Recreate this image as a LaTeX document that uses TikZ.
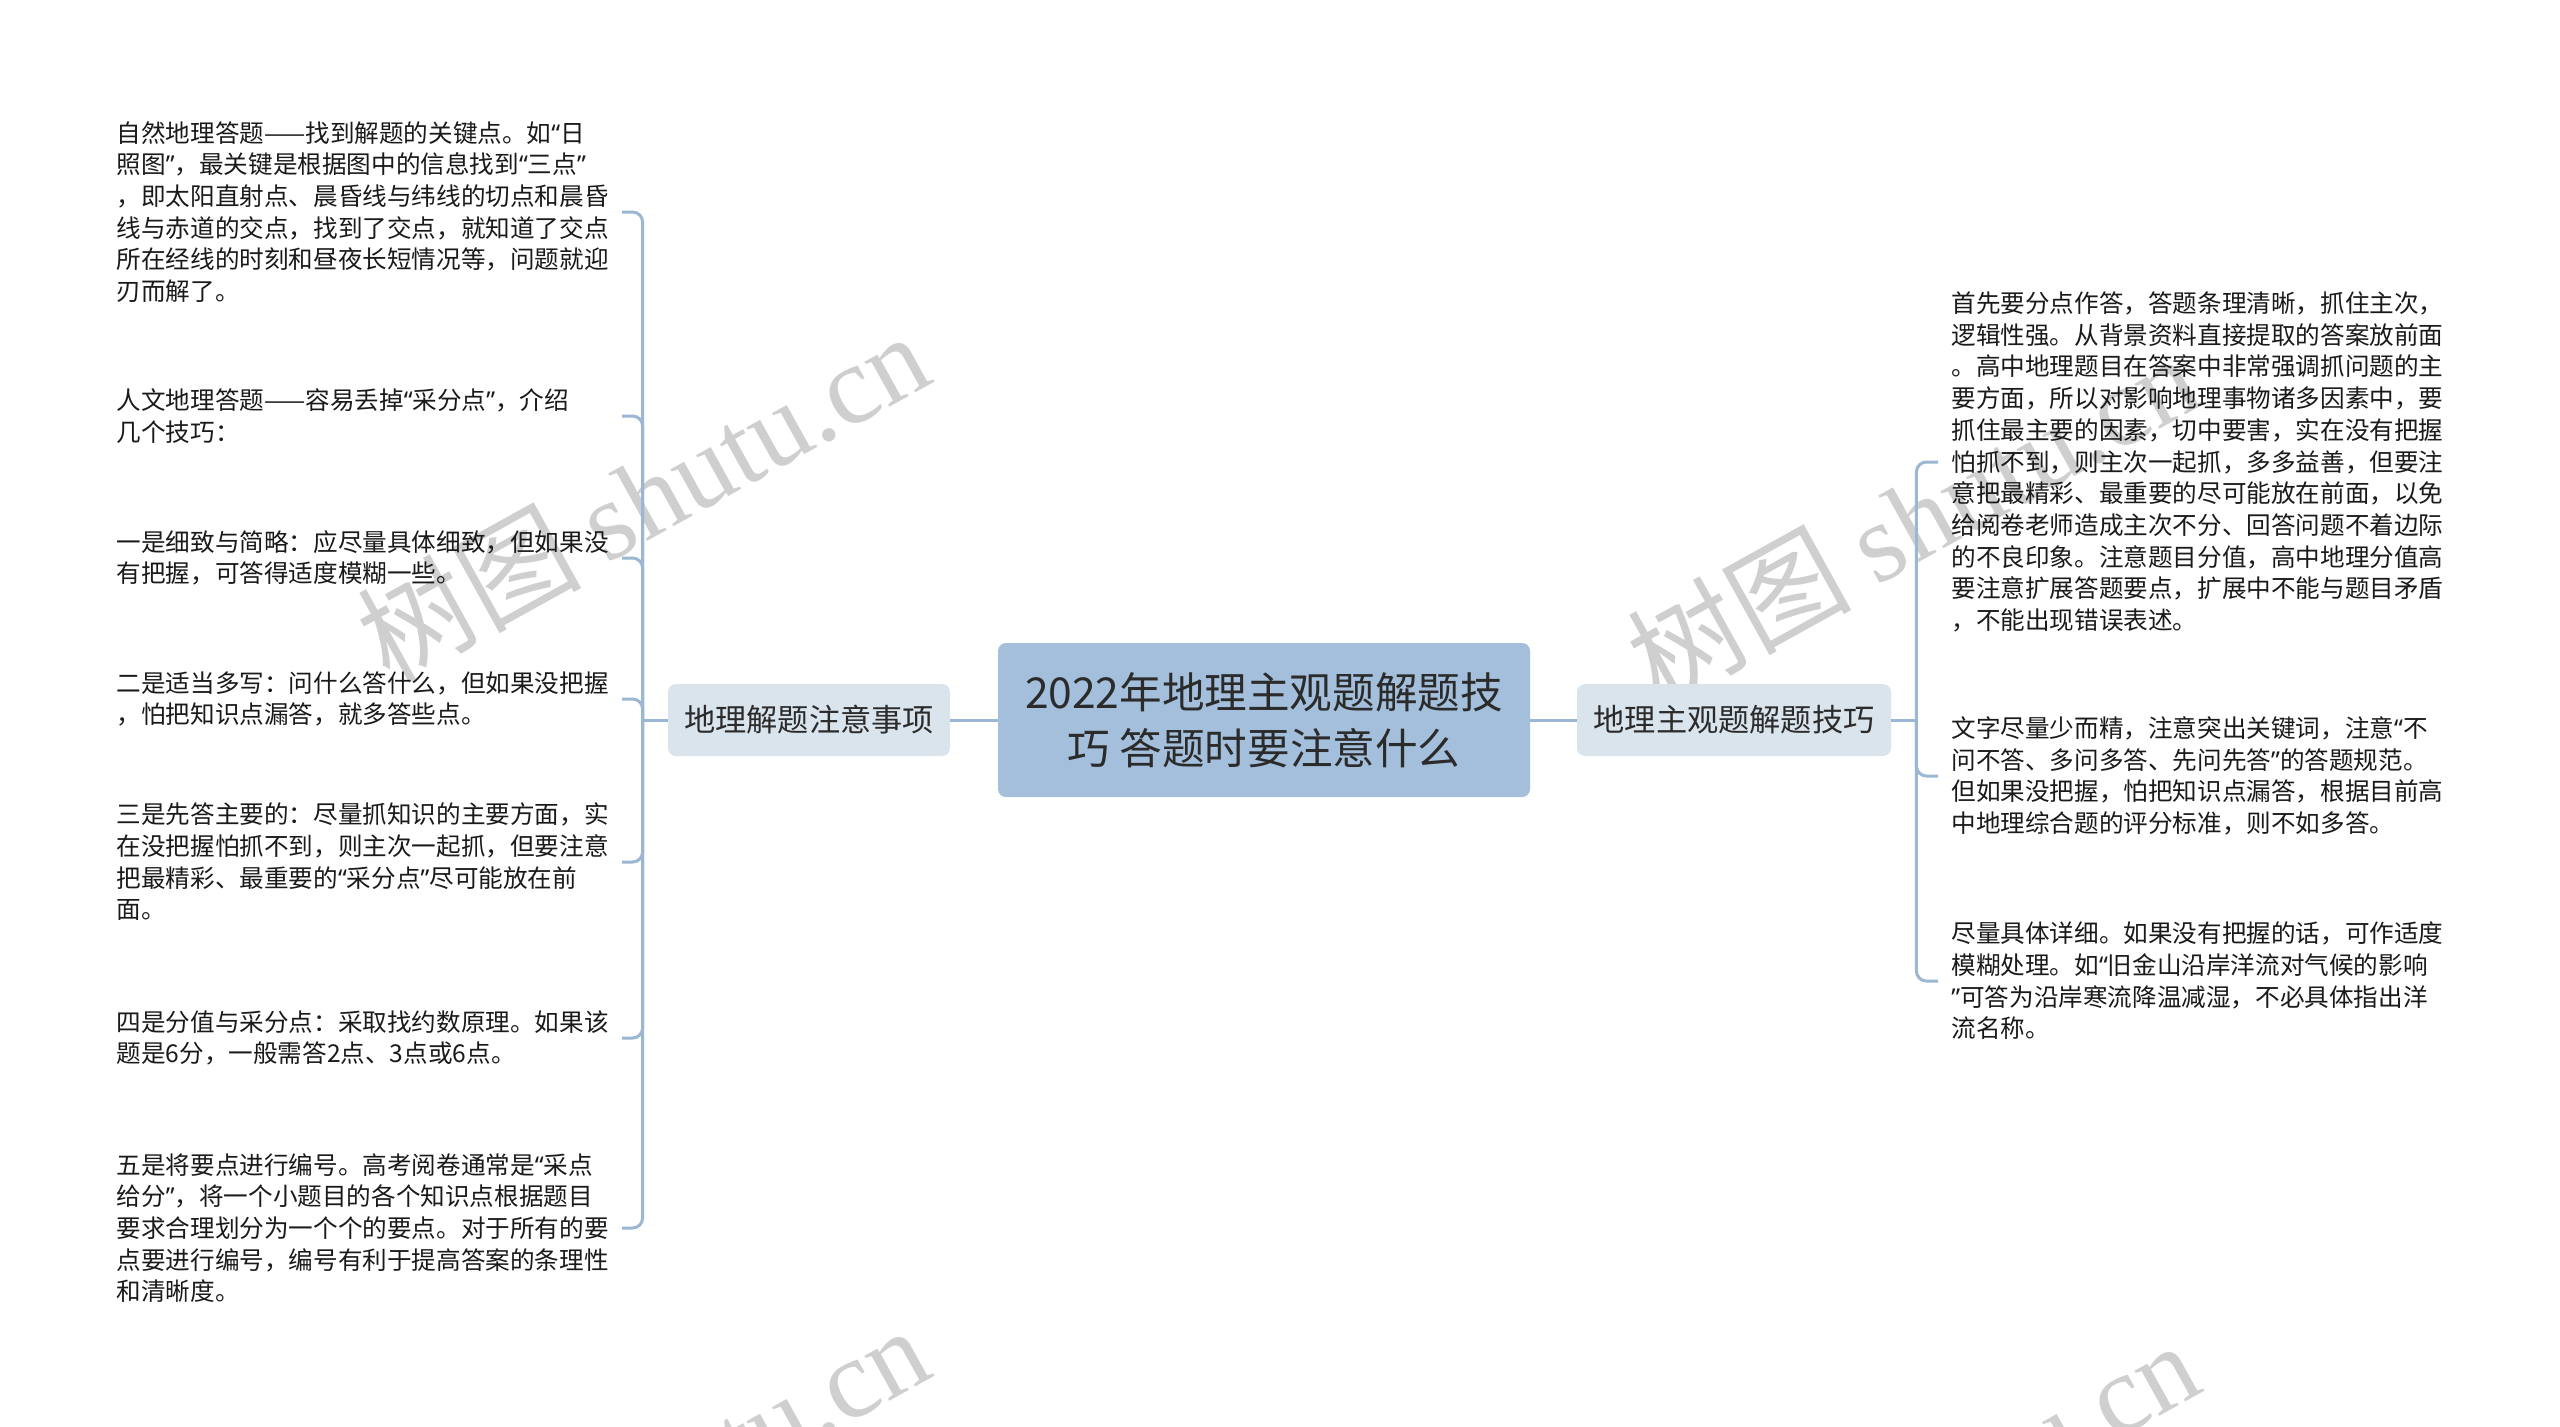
\documentclass[tikz,border=0pt]{standalone}
\usepackage{fontspec}
\setmainfont{Noto Sans CJK SC}
\newfontfamily\wmlatin{Liberation Serif}
\newfontfamily\quotefont{Noto Sans}
\newcommand\myoq{{\quotefont “}}
\newcommand\mycq{{\quotefont ”}}
\usetikzlibrary{calc}
\definecolor{centerfill}{HTML}{A3BFDB}
\definecolor{sidefill}{HTML}{DAE4ED}
\definecolor{linkcol}{HTML}{9BB7D3}
\definecolor{nodetxt}{HTML}{2B2B2B}
\definecolor{leaftxt}{HTML}{1A1A1A}
\definecolor{wmcol}{HTML}{CFCFCF}
\begin{document}
\begin{tikzpicture}[x=0.5pt,y=-0.5pt,
  centerbox/.style={fill=centerfill, rounded corners=4pt, minimum width=266pt, minimum height=77pt,
    align=center, inner sep=0pt, text=nodetxt, font=\fontsize{21.3pt}{28pt}\selectfont},
  sidebox/.style={fill=sidefill, rounded corners=4pt, minimum height=36pt, inner sep=0pt,
    text=nodetxt, font=\fontsize{15.6pt}{18pt}\selectfont},
  leftleaf/.style={anchor=east, align=left, text width=252.5pt, inner sep=0pt, text=leaftxt,
    font=\fontsize{12.3pt}{15.85pt}\selectfont},
  rightleaf/.style={anchor=west, align=left, inner xsep=6.5pt, inner ysep=0pt, text=leaftxt,
    font=\fontsize{12.3pt}{15.85pt}\selectfont},
  link/.style={draw=linkcol, line width=1.5pt, rounded corners=5pt},
  watermark/.style={text=wmcol, rotate=29, inner sep=0pt, font=\fontsize{56pt}{60pt}\selectfont}
]
\useasboundingbox (0,0) rectangle (2560,1426);
\fill[white] (0,0) rectangle (2560,1426);

% watermarks
\node[watermark] (wm1) at (642,496) {树图 {\wmlatin shutu.cn}};
\node[watermark] (wm2) at (1912,518) {树图 {\wmlatin shutu.cn}};
\node[watermark] (wm3) at (642,1490) {树图 {\wmlatin shutu.cn}};
\node[watermark] (wm4) at (1912,1505) {树图 {\wmlatin shutu.cn}};

% main nodes
\node[centerbox] (center) at (1264,720) {2022年地理主观题解题技\\巧 答题时要注意什么};
\node[sidebox, minimum width=141pt] (lside) at (809,720) {地理解题注意事项};
\node[sidebox, minimum width=157pt] (rside) at (1734,720) {地理主观题解题技巧};

% left leaves
\node[leftleaf] (L1) at (622,212) {自然地理答题——找到解题的关键点。如\myoq 日\\照图\mycq，最关键是根据图中的信息找到\myoq 三点\mycq\\，即太阳直射点、晨昏线与纬线的切点和晨昏\\线与赤道的交点，找到了交点，就知道了交点\\所在经线的时刻和昼夜长短情况等，问题就迎\\刃而解了。};
\node[leftleaf] (L2) at (622,416) {人文地理答题——容易丢掉\myoq 采分点\mycq，介绍\\几个技巧：};
\node[leftleaf] (L3) at (622,558) {一是细致与简略：应尽量具体细致，但如果没\\有把握，可答得适度模糊一些。};
\node[leftleaf] (L4) at (622,699) {二是适当多写：问什么答什么，但如果没把握\\，怕把知识点漏答，就多答些点。};
\node[leftleaf] (L5) at (622,862) {三是先答主要的：尽量抓知识的主要方面，实\\在没把握怕抓不到，则主次一起抓，但要注意\\把最精彩、最重要的\myoq 采分点\mycq 尽可能放在前\\面。};
\node[leftleaf] (L6) at (622,1038) {四是分值与采分点：采取找约数原理。如果该\\题是6分，一般需答2点、3点或6点。};
\node[leftleaf] (L7) at (622,1228) {五是将要点进行编号。高考阅卷通常是\myoq 采点\\给分\mycq，将一个小题目的各个知识点根据题目\\要求合理划分为一个个的要点。对于所有的要\\点要进行编号，编号有利于提高答案的条理性\\和清晰度。};

% right leaves
\node[rightleaf] (R1) at (1938,462) {首先要分点作答，答题条理清晰，抓住主次，\\逻辑性强。从背景资料直接提取的答案放前面\\。高中地理题目在答案中非常强调抓问题的主\\要方面，所以对影响地理事物诸多因素中，要\\抓住最主要的因素，切中要害，实在没有把握\\怕抓不到，则主次一起抓，多多益善，但要注\\意把最精彩、最重要的尽可能放在前面，以免\\给阅卷老师造成主次不分、回答问题不着边际\\的不良印象。注意题目分值，高中地理分值高\\要注意扩展答题要点，扩展中不能与题目矛盾\\，不能出现错误表述。};
\node[rightleaf] (R2) at (1938,776) {文字尽量少而精，注意突出关键词，注意\myoq 不\\问不答、多问多答、先问先答\mycq 的答题规范。\\但如果没把握，怕把知识点漏答，根据目前高\\中地理综合题的评分标准，则不如多答。};
\node[rightleaf] (R3) at (1938,981) {尽量具体详细。如果没有把握的话，可作适度\\模糊处理。如\myoq 旧金山沿岸洋流对气候的影响\\\mycq 可答为沿岸寒流降温减湿，不必具体指出洋\\流名称。};

% junctions
\coordinate (lj) at ($(lside.west)+(-25,0)$);
\coordinate (rj) at ($(rside.east)+(25,0)$);

% connectors
\draw[link] (center.west) -- (lside.east);
\draw[link] (center.east) -- (rside.west);
\draw[link] (lside.west) -- (lj);
\draw[link] (rside.east) -- (rj);
\foreach \n in {L1,L2,L3,L4,L5,L6,L7}{
  \draw[link] (lj) |- (\n.east);
}
\foreach \n in {R1,R2,R3}{
  \draw[link] (rj) |- (\n.west);
}
\end{tikzpicture}
\end{document}
